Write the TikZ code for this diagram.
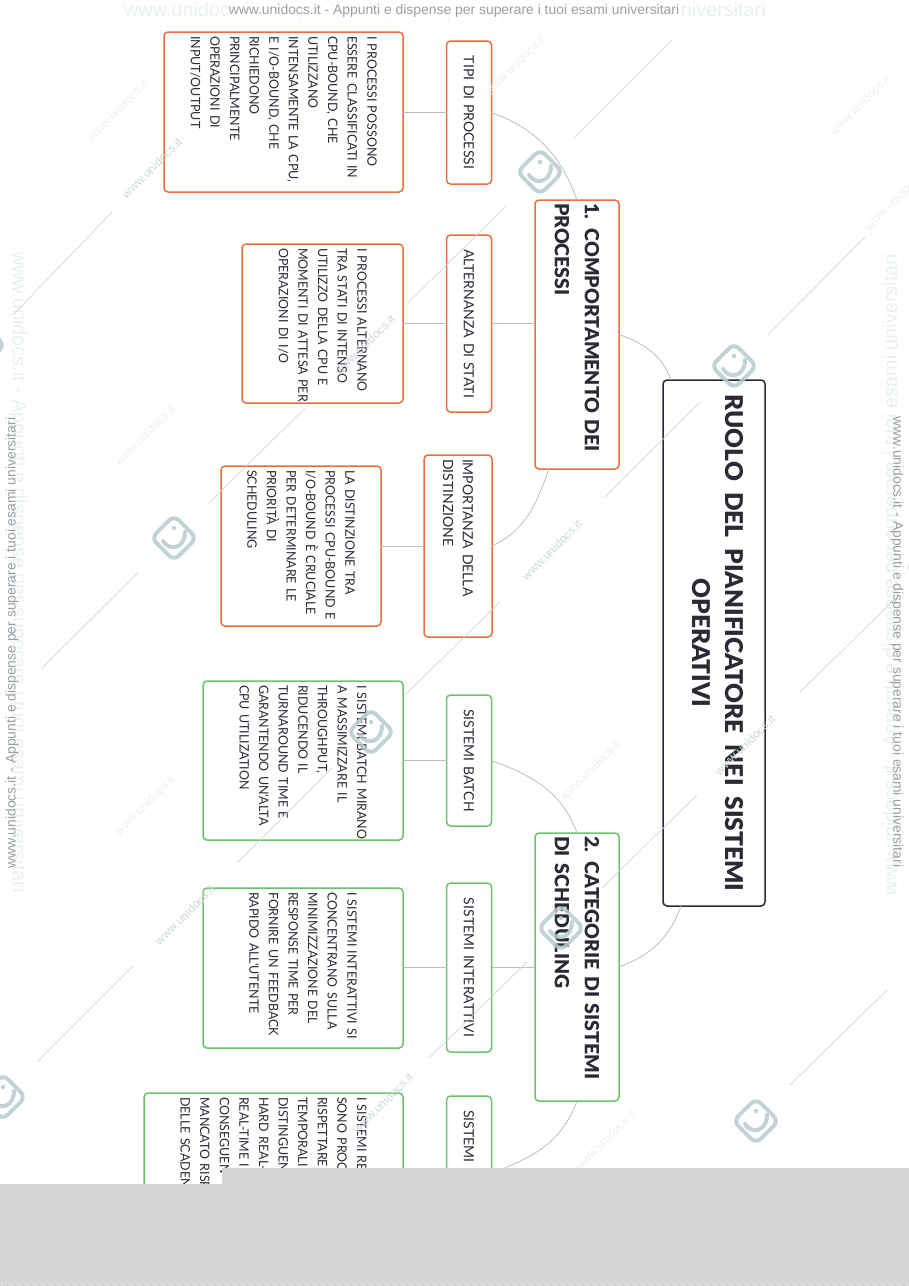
\documentclass[tikz,border=0pt]{standalone}
\usepackage{fontspec}
\setmainfont{Lato}[WordSpace=0.7]
\newfontfamily\txtfont{Lato}[WordSpace=0.7,FakeStretch=0.96]
\newfontfamily\headfont{Lato Black}[WordSpace=0.7]
\newfontfamily\wmfont{Liberation Sans}
\usetikzlibrary{calc,patterns.meta}

\definecolor{inkdark}{HTML}{2A2A35}
\definecolor{edgeorange}{HTML}{E8703C}
\definecolor{edgegreen}{HTML}{6CC36E}
\definecolor{linkgray}{HTML}{BDBDBD}
\definecolor{wmtext}{HTML}{9A9FA3}
\definecolor{wmghost}{HTML}{E9F0F2}
\definecolor{wmdiag}{HTML}{CCD6DA}
\definecolor{wmlogo}{HTML}{B7CACF}
\definecolor{bandgray}{HTML}{D6D6D6}

\tikzset{
	box/.style={draw, rounded corners=4pt, rotate=-90, text=inkdark, outer sep=0pt},
	rootbox/.style={box, draw=inkdark, line width=1.5pt, align=center,
		font=\headfont\fontsize{24.5}{33}\selectfont, inner xsep=6pt, inner ysep=0pt},
	headbox/.style={box, line width=1.5pt, align=left,
		font=\headfont\fontsize{19.5}{30}\selectfont, inner xsep=3pt, inner ysep=0pt},
	subbox/.style={box, line width=1.5pt, align=center,
		font=\fontsize{14}{19.6}\selectfont, inner xsep=4pt, inner ysep=0pt},
	txtbox/.style={box, line width=1.5pt, align=left,
		font=\txtfont\fontsize{13}{19.6}\selectfont, inner xsep=4pt, inner ysep=0pt},
	link/.style={draw=linkgray, line width=0.8pt},
	wmdiagline/.style={draw=wmdiag, line width=0.7pt},
	wmstamp/.style={font=\wmfont\fontsize{12}{12}\selectfont, rotate=45, inner sep=0pt},
}

\begin{document}
\begin{tikzpicture}[x=1pt, y=-1pt]
	\useasboundingbox (0,0) rectangle (909,1286);
	
	% central node and the two branches
	\node[rootbox, minimum width=526pt, minimum height=102pt, text width=514pt] (root) at (714,643)
		{\spaceskip=11pt\relax RUOLO DEL PIANIFICATORE NEI SISTEMI\\OPERATIVI\rule[-8pt]{0pt}{8pt}};
	\node[headbox, draw=edgeorange, minimum width=269pt, minimum height=84pt, text width=263pt] (comp) at (577,334.5)
		{1. COMPORTAMENTO DEI\\PROCESSI};
	\node[headbox, draw=edgegreen, minimum width=268pt, minimum height=84pt, text width=262pt] (categ) at (577,967)
		{2. CATEGORIE DI SISTEMI\\DI SCHEDULING};
	
	% first branch
	\node[subbox, draw=edgeorange, minimum width=143pt, minimum height=45pt, text width=135pt] (tipi) at (469,112.5)
		{TIPI DI PROCESSI};
	\node[subbox, draw=edgeorange, minimum width=177pt, minimum height=45pt, text width=169pt] (altern) at (469,323.5)
		{ALTERNANZA DI STATI};
	\node[subbox, draw=edgeorange, align=left, minimum width=182pt, minimum height=68pt, text width=174pt] (import) at (458,546)
		{IMPORTANZA DELLA\\DISTINZIONE};
	\node[txtbox, draw=edgeorange, minimum width=160pt, minimum height=239pt, text width=152pt] (tipitxt) at (283.5,112)
		{I PROCESSI POSSONO\\ESSERE CLASSIFICATI IN\\CPU-BOUND, CHE\\UTILIZZANO\\INTENSAMENTE LA CPU,\\E I/O-BOUND, CHE\\RICHIEDONO\\PRINCIPALMENTE\\OPERAZIONI DI\\INPUT/OUTPUT};
	\node[txtbox, draw=edgeorange, minimum width=159pt, minimum height=161pt, text width=151pt] (alterntxt) at (322.5,323.5)
		{I PROCESSI ALTERNANO\\TRA STATI DI INTENSO\\UTILIZZO DELLA CPU E\\\mbox{MOMENTI DI ATTESA PER}\\OPERAZIONI DI I/O};
	\node[txtbox, draw=edgeorange, minimum width=160pt, minimum height=160pt, text width=152pt] (importtxt) at (301,546)
		{LA DISTINZIONE TRA\\PROCESSI CPU-BOUND E\\I/O-BOUND È CRUCIALE\\PER DETERMINARE LE\\PRIORITÀ DI\\SCHEDULING};
	
	% second branch
	\node[subbox, draw=edgegreen, minimum width=131pt, minimum height=45pt, text width=123pt] (batch) at (469,760.5)
		{SISTEMI BATCH};
	\node[subbox, draw=edgegreen, minimum width=169pt, minimum height=45pt, text width=161pt] (inter) at (469,967.5)
		{SISTEMI INTERATTIVI};
	\node[subbox, draw=edgegreen, align=left, inner xsep=14pt, minimum width=154pt, minimum height=45pt, text width=126pt] (realt) at (469,1173)
		{SISTEMI R};
	\node[txtbox, draw=edgegreen, minimum width=159pt, minimum height=200pt, text width=151pt] (batchtxt) at (303,760.5)
		{\mbox{I SISTEMI BATCH MIRANO}\\A MASSIMIZZARE IL\\THROUGHPUT,\\RIDUCENDO IL\\TURNAROUND TIME E\\GARANTENDO UN'ALTA\\CPU UTILIZATION};
	\node[txtbox, draw=edgegreen, minimum width=160pt, minimum height=200pt, text width=152pt] (intertxt) at (303,968)
		{I SISTEMI INTERATTIVI SI\\CONCENTRANO SULLA\\MINIMIZZAZIONE DEL\\RESPONSE TIME PER\\FORNIRE UN FEEDBACK\\RAPIDO ALL'UTENTE};
	\node[txtbox, draw=edgegreen, minimum width=160pt, minimum height=259pt, text width=152pt] (realttxt) at (273.5,1173)
		{I SISTEMI RE\\SONO PROC\\RISPETTARE\\TEMPORALI\\DISTINGUEN\\HARD REAL-\\REAL-TIME I\\CONSEGUEN\\MANCATO RISP\\DELLE SCADEN};
	
	% connectors
	\draw[link] (comp.north) to[out=-20, in=110] ($(root.south west)+(8,0)$);
	\draw[link] (categ.north) to[out=20, in=-110] ($(root.south east)+(18,0)$);
	\draw[link] (tipi.north) to[out=-20, in=110] (comp.west);
	\draw[link] (altern.north) -- (altern.north -| comp.south);
	\draw[link] (import.north) to[out=25, in=-110] ($(comp.east)+(-28,0)$);
	\draw[link] (batch.north) to[out=-20, in=110] (categ.west);
	\draw[link] (inter.north) -- (inter.north -| categ.south);
	\draw[link] (categ.east) to[out=-110, in=20] (realt.north);
	\draw[link] (tipi.south) -- (tipi.south -| tipitxt.north);
	\draw[link] (altern.south) -- (altern.south -| alterntxt.north);
	\draw[link] (import.south) -- (import.south -| importtxt.north);
	\draw[link] (batch.south) -- (batch.south -| batchtxt.north);
	\draw[link] (inter.south) -- (inter.south -| intertxt.north);
	
	% watermark: ghost and edge texts
	\node[font=\wmfont\fontsize{19.8}{20}\selectfont, text=wmghost, inner sep=0pt] (ghosttop) at (445,11)
		{www.unidocs.it - Appunti e dispense per superare i tuoi esami universitari};
	\node[font=\wmfont\fontsize{19.8}{20}\selectfont, text=wmghost, inner sep=0pt, rotate=-90] (ghostleft) at (18,572)
		{www.unidocs.it - Appunti e dispense per superare i tuoi esami universitari};
	\node[font=\wmfont\fontsize{19.8}{20}\selectfont, text=wmghost, inner sep=0pt, rotate=90] (ghostright) at (892,575)
		{www.unidocs.it - Appunti e dispense per superare i tuoi esami universitari};
	\node[font=\wmfont\fontsize{13.9}{14}\selectfont, text=wmtext, fill=white, inner sep=1pt] (marktop) at (454,11)
		{www.unidocs.it - Appunti e dispense per superare i tuoi esami universitari};
	\node[font=\wmfont\fontsize{13.9}{14}\selectfont, text=wmtext, inner sep=0pt, rotate=90] (markleft) at (12,643)
		{www.unidocs.it - Appunti e dispense per superare i tuoi esami universitari};
	\node[font=\wmfont\fontsize{13.9}{14}\selectfont, text=wmtext, inner sep=0pt, rotate=-90] (markright) at (897,642)
		{www.unidocs.it - Appunti e dispense per superare i tuoi esami universitari};
	
	% watermark: diagonal lines
	\foreach \xa/\ya/\xb/\yb in {575/137/672/40, 408/303/505/207, 13/315/112/212, 42/668/139/572,
		37/1062/133/966, 790/1085/887/990, 430/1057/527/962, 237/863/332/768, 768/335/865/237,
		800/692/897/597, 605/497/700/402, 209/503/305/408, 405/695/500/602, 602/888/697/795}
		\draw[wmdiagline] (\xa,\ya) -- (\xb,\yb);
	
	% watermark: logos
	\foreach \lx/\ly in {540/172, 734/366, 174/538, 371/732, 561/928, 3/1097, 756/1121, -18/345, 930/567} {
		\begin{scope}[shift={(\lx,\ly)}, opacity=0.85]
			\draw[wmlogo, line width=4pt, rounded corners=7pt, rotate=45] (-16,-16) rectangle (16,16);
			\draw[wmlogo, line width=4pt, line cap=round] (-11,3) .. controls (-4,14) and (11,10) .. (11,-6);
			\fill[wmlogo] (0,-10) circle (2.2pt);
		\end{scope}
	}
	
	% watermark: diagonal stamps
	\foreach \sx/\sy/\sname in {152/168/sa, 552/550/sb, 185/915/sc, 745/745/sd, 383/1103/se, 365/345/sf}
		\node[wmstamp, text=wmdiag] (\sname) at (\sx,\sy) {www.unidocs.it};
	\foreach \sx/\sy/\sname in {515/65/sg, 118/110/sh, 145/435/si, 145/805/sj, 590/770/sk, 860/105/sl, 605/1140/sm, 895/200/sn}
		\node[wmstamp, text=wmghost] (\sname) at (\sx,\sy) {www.unidocs.it};
	
	% grey band that closes the page
	\fill[bandgray] (0,1184) -- (222,1184) -- (222,1168) -- (909,1168) -- (909,1286) -- (0,1286) -- cycle;
	\fill[pattern={Dots[distance=8pt, radius=0.5pt]}, pattern color=gray] (0,1184) -- (222,1184) -- (222,1168) -- (909,1168) -- (909,1286) -- (0,1286) -- cycle;
	\fill[pattern={Dots[distance=8pt, radius=0.5pt, xshift=1.5pt, yshift=1.5pt]}, pattern color=white] (0,1184) -- (222,1184) -- (222,1168) -- (909,1168) -- (909,1286) -- (0,1286) -- cycle;
\end{tikzpicture}
\end{document}
